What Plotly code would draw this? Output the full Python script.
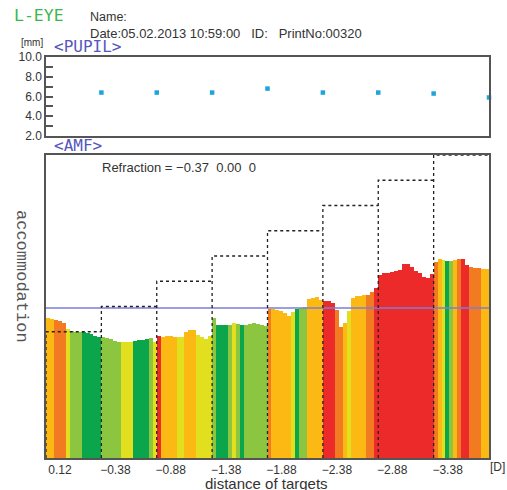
import plotly.graph_objects as go

# ---------------- data ----------------
distance_labels = ["0.12", "\u22120.38", "\u22120.88", "\u22121.38",
                   "\u22121.88", "\u22122.38", "\u22122.88", "\u22123.38"]
pupil_mm = [6.4, 6.4, 6.4, 6.8, 6.4, 6.4, 6.3, 5.9]
target_level = [2.5, 3.0, 3.5, 4.0, 4.5, 5.0, 5.5, 6.0]
refraction_level = 2.97
pupil_ticks = [2, 3, 4, 5, 6, 7, 8, 9, 10]
pupil_ticktext = ["2.0", "", "4.0", "", "6.0", "", "8.0", "", "10.0"]

# accommodation per bar, per target step
amf_seg1 = [2.77, 2.75, 2.73, 2.72, 2.67, 2.55, 2.51, 2.50, 2.49, 2.49, 2.47, 2.46, 2.42, 2.40]
amf_seg2 = [2.40, 2.38, 2.36, 2.32, 2.30, 2.29, 2.29, 2.30, 2.32, 2.34, 2.34, 2.36, 2.37, 2.30]
amf_seg3 = [2.42, 2.40, 2.41, 2.41, 2.40, 2.40, 2.40, 2.50, 2.53, 2.53, 2.44, 2.40, 2.36, 2.42]
amf_seg4 = [2.77, 2.63, 2.63, 2.63, 2.63, 2.67, 2.65, 2.63, 2.64, 2.65, 2.67, 2.66, 2.63, 2.61]
amf_seg5 = [2.96, 2.96, 2.93, 2.92, 2.87, 2.81, 2.90, 2.96, 2.98, 3.00, 3.14, 3.16, 3.18, 3.13]
amf_seg6 = [3.10, 3.11, 3.07, 2.93, 2.59, 2.67, 2.91, 3.16, 3.20, 3.21, 3.22, 3.23, 3.29, 3.36]
amf_seg7 = [3.62, 3.67, 3.67, 3.69, 3.71, 3.72, 3.84, 3.84, 3.79, 3.71, 3.66, 3.58, 3.56, 3.64]
amf_seg8 = [3.89, 3.95, 3.93, 3.91, 3.90, 3.93, 3.94, 3.94, 3.82, 3.79, 3.76, 3.76, 3.75, 3.74]

# fluctuation level per bar (1 = low ... 6 = high)
hfc_seg1 = [4, 4, 5, 5, 5, 3, 2, 2, 2, 1, 1, 1, 1, 1]
hfc_seg2 = [2, 2, 2, 2, 2, 3, 3, 3, 1, 1, 1, 1, 2, 3]
hfc_seg3 = [6, 4, 4, 4, 4, 3, 3, 4, 4, 4, 3, 3, 3, 3]
hfc_seg4 = [2, 1, 1, 1, 2, 3, 2, 1, 2, 2, 2, 2, 2, 2]
hfc_seg5 = [5, 4, 4, 4, 4, 4, 3, 1, 2, 2, 4, 4, 4, 4]
hfc_seg6 = [6, 6, 6, 5, 5, 4, 3, 4, 4, 4, 4, 5, 5, 6]
hfc_seg7 = [6, 6, 6, 6, 6, 6, 6, 6, 6, 6, 6, 6, 6, 6]
hfc_seg8 = [5, 4, 3, 1, 2, 4, 5, 6, 6, 5, 5, 5, 4, 4]

amf_values = [amf_seg1, amf_seg2, amf_seg3, amf_seg4, amf_seg5, amf_seg6, amf_seg7, amf_seg8]
hfc_levels = [hfc_seg1, hfc_seg2, hfc_seg3, hfc_seg4, hfc_seg5, hfc_seg6, hfc_seg7, hfc_seg8]

level_colors = {1: "#0BA64C", 2: "#8CC540", 3: "#E2E01E", 4: "#FDB913", 5: "#F27B21", 6: "#EC2A2A"}

# ---------------- geometry helpers (layout only) ----------------
W, H = 507, 490
L, R, T, B = 46, 18, 57, 32
PW, PH = W - L - R, H - T - B


def px(x):
    return (x - L) / PW


def py(y):
    return (H - B - y) / PH


fig = go.Figure()

# AMF bars
bx, by, bw, bc = [], [], [], []
for s, (vals, lv) in enumerate(zip(amf_values, hfc_levels)):
    n = len(vals)
    for j, (v, c) in enumerate(zip(vals, lv)):
        bx.append(s + (j + 0.5) / n)
        by.append(v)
        bw.append(1.0 / n)
        bc.append(level_colors[c])
fig.add_trace(go.Bar(x=bx, y=by, width=bw, marker=dict(color=bc, line=dict(width=0)),
                     xaxis="x", yaxis="y", showlegend=False))

# refraction line
fig.add_trace(go.Scatter(x=[0, len(target_level)], y=[refraction_level, refraction_level],
                         mode="lines", line=dict(color="#7C7CDA", width=1.6),
                         xaxis="x", yaxis="y", showlegend=False))

# target steps (dotted)
sx, sy = [], []
for s, lvl in enumerate(target_level):
    sx += [s, s, s + 1, None]
    sy += [0, lvl, lvl, None]
fig.add_trace(go.Scatter(x=sx, y=sy, mode="lines", line=dict(color="#222", width=1.3, dash="dot"),
                         xaxis="x", yaxis="y", showlegend=False))

# pupil dots
fig.add_trace(go.Scatter(x=list(range(1, len(pupil_mm) + 1)), y=pupil_mm, mode="markers",
                         marker=dict(symbol="square", size=4.5, color="#1DA5DB"),
                         xaxis="x2", yaxis="y2", showlegend=False, cliponaxis=False))

axis_common = dict(showline=True, mirror=True, linecolor="#555", linewidth=1.5,
                   showgrid=False, zeroline=False)

fig.update_layout(
    width=W, height=H,
    margin=dict(l=L, r=R, t=T, b=B, pad=0),
    paper_bgcolor="white", plot_bgcolor="white",
    font=dict(family="Liberation Sans, Arial, sans-serif", color="#333", size=12),
    bargap=0,
    xaxis=dict(domain=[0, 1], range=[0, 8], tickvals=list(range(8)), ticktext=distance_labels,
               ticks="", ticklabelshift=14, tickfont=dict(size=12, color="#333"), **axis_common),
    yaxis=dict(domain=[0, py(155)], range=[0, 6], showticklabels=False, ticks="", **axis_common),
    xaxis2=dict(domain=[0, 1], range=[0, 8], anchor="y2", showticklabels=False, ticks="",
                **axis_common),
    yaxis2=dict(domain=[py(136), 1], range=[2, 10], anchor="x2", tickvals=pupil_ticks,
                ticktext=pupil_ticktext, ticks="inside", ticklen=7, tickcolor="#555", tickwidth=1.5,
                tickfont=dict(size=12, color="#333"), **axis_common),
)

nb = "\u00a0"
ann = [
    dict(text="L-EYE", x=px(12), y=py(15), xanchor="left", yanchor="middle",
         font=dict(family="DejaVu Sans Mono", size=16.5, color="#3DB54A")),
    dict(text="Name:", x=px(88), y=py(17), xanchor="left", yanchor="middle",
         font=dict(size=12.5, color="#333")),
    dict(text="Date:05.02.2013 10:59:00" + nb * 3 + "ID:" + nb * 3 + "PrintNo:00320",
         x=px(88), y=py(34), xanchor="left", yanchor="middle", font=dict(size=13, color="#333")),
    dict(text="[mm]", x=px(32), y=py(43), xanchor="center", yanchor="middle",
         font=dict(size=10, color="#333")),
    dict(text="&lt;PUPIL&gt;", x=px(52), y=py(46.5), xanchor="left", yanchor="middle",
         font=dict(family="DejaVu Sans Mono", size=16, color="#5656C0")),
    dict(text="&lt;AMF&gt;", x=px(52), y=py(145.5), xanchor="left", yanchor="middle",
         font=dict(family="DejaVu Sans Mono", size=16, color="#5656C0")),
    dict(text="Refraction = \u22120.37" + nb * 2 + "0.00" + nb * 2 + "0", x=px(100), y=py(167),
         xanchor="left", yanchor="middle", font=dict(size=13, color="#333")),
    dict(text="accommodation", x=px(22), y=py(276), xanchor="center", yanchor="middle",
         textangle=90, font=dict(family="Liberation Mono", size=17, color="#555")),
    dict(text="distance of targets", x=px(266), y=py(483), xanchor="center", yanchor="middle",
         font=dict(size=15, color="#333")),
    dict(text="[D]", x=px(498), y=py(467), xanchor="center", yanchor="middle",
         font=dict(size=12, color="#333")),
]
for a in ann:
    a.update(xref="paper", yref="paper", showarrow=False)
fig.update_layout(annotations=ann)

fig.write_html("out.html", config={"displayModeBar": False},
               post_script="document.body.style.margin='0';document.body.style.overflow='hidden';")
